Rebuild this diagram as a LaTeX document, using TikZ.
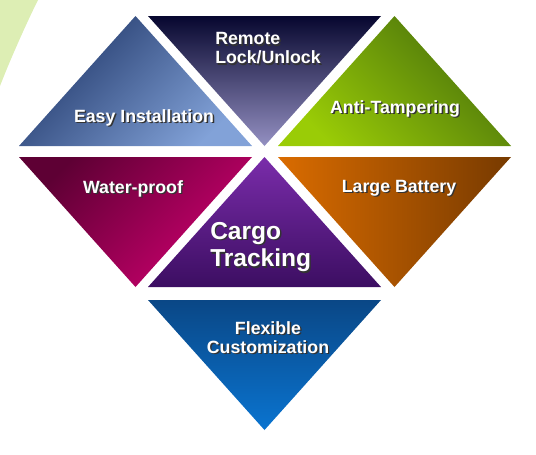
\documentclass[tikz,border=0pt]{standalone}
\usepackage{fontspec}
\setmainfont{Liberation Sans}
\usepackage{tikz}
\usepackage{xcolor}
\definecolor{leafgreen}{HTML}{DDEEB4}
\definecolor{easytop}{HTML}{22396B}
\definecolor{easybot}{HTML}{82A2D8}
\definecolor{remtop}{HTML}{07072F}
\definecolor{rembot}{HTML}{9490C2}
\definecolor{antitop}{HTML}{48700C}
\definecolor{antibot}{HTML}{9ACC06}
\definecolor{watertop}{HTML}{5E0034}
\definecolor{waterbot}{HTML}{CC006E}
\definecolor{cargotop}{HTML}{7A2CAA}
\definecolor{cargobot}{HTML}{3C0E62}
\definecolor{battleft}{HTML}{DA6C00}
\definecolor{battright}{HTML}{773A00}
\definecolor{flextop}{HTML}{0A4786}
\definecolor{flexbot}{HTML}{0A74D0}
\newcommand\shtxt[1]{\rlap{\hspace{1.1pt}\raisebox{-1.1pt}{\color{black!80}#1}}#1}

\begin{document}
\begin{tikzpicture}[x=0.75pt, y=-0.75pt,
  lbl/.style={text=white, font=\bfseries\fontsize{13.3}{14.3}\selectfont, inner sep=0pt},
  big/.style={text=white, font=\bfseries\fontsize{18.4}{20.6}\selectfont, inner sep=0pt}]
\useasboundingbox (0,0) rectangle (536,454);
\fill[leafgreen] (0,0) -- (38,0) .. controls (27,22) and (10,60) .. (0,86) -- cycle;
\shade[top color=easytop, bottom color=easybot, shading angle=45] (135.5,16) -- (252,146) -- (19,146) -- cycle;
\shade[top color=remtop, bottom color=rembot] (148,16) -- (381,16) -- (264.5,146) -- cycle;
\shade[top color=antitop, bottom color=antibot, shading angle=-45] (394.5,16) -- (511,146) -- (278,146) -- cycle;
\shade[top color=watertop, bottom color=waterbot, shading angle=45] (19,157) -- (252,157) -- (135.5,287) -- cycle;
\shade[top color=cargotop, bottom color=cargobot] (264.5,157) -- (381,287) -- (148,287) -- cycle;
\shade[left color=battleft, right color=battright] (278,157) -- (511,157) -- (394.5,287) -- cycle;
\shade[top color=flextop, bottom color=flexbot] (148,300) -- (381,300) -- (264.5,430) -- cycle;
\node[lbl, anchor=base] (easy) at (144,122) {\shtxt{Easy Installation}};
\node[lbl, anchor=west, align=left] (remote) at (215,49) {\shtxt{Remote}\\\shtxt{Lock/Unlock}};
\node[lbl, anchor=base] (anti) at (395,113) {\shtxt{Anti-Tampering}};
\node[lbl, anchor=base] (water) at (133,193) {\shtxt{Water-proof}};
\node[lbl, anchor=base] (battery) at (399,192) {\shtxt{Large Battery}};
\node[big, anchor=west, align=left] (cargo) at (210,248) {\shtxt{Cargo}\\\shtxt{Tracking}};
\node[lbl, anchor=center, align=center] (flex) at (268,338) {\shtxt{Flexible}\\\shtxt{Customization}};
\end{tikzpicture}
\end{document}
